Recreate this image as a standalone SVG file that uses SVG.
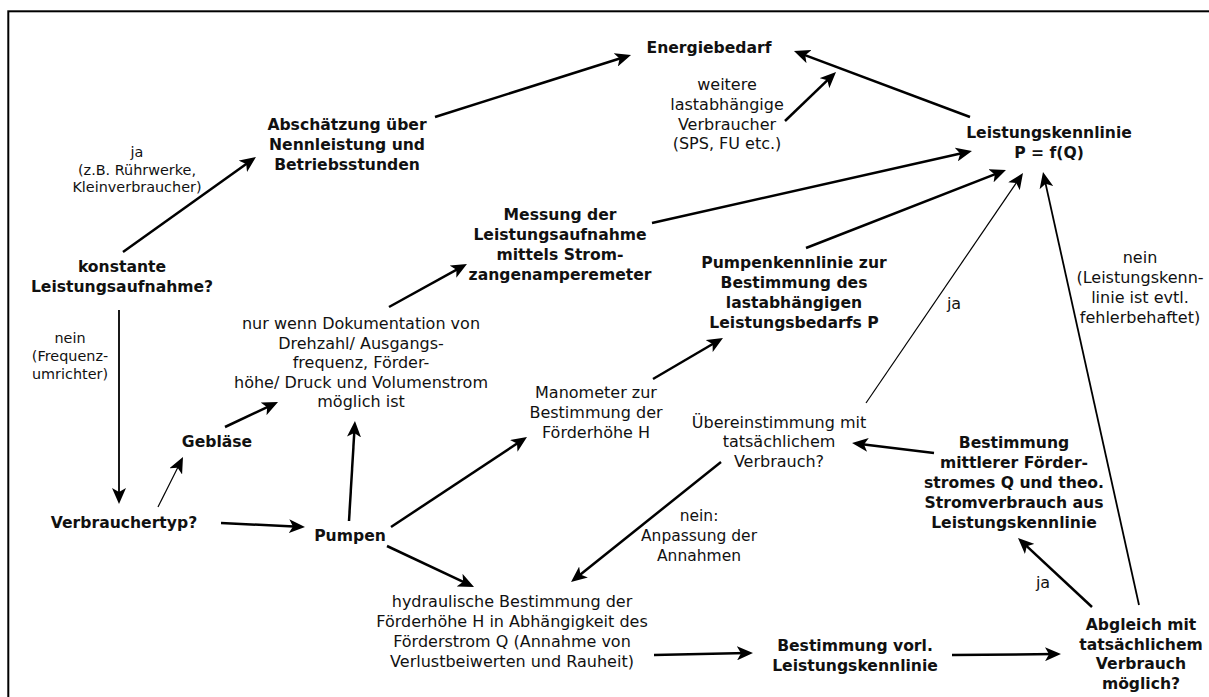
<svg xmlns="http://www.w3.org/2000/svg" width="1209" height="697" viewBox="0 0 1209 697">
<style>
text{font-family:"DejaVu Sans","Liberation Sans",sans-serif;fill:#111;text-anchor:middle}
.b{font-weight:bold;font-size:15.6px}
.r{font-size:16px}
.s{font-size:14.4px}
.l{fill:none;stroke:#000;stroke-width:2.5;marker-end:url(#ah)}
.t{fill:none;stroke:#000;stroke-width:1.2;marker-end:url(#ah)}
.m{fill:none;stroke:#000;stroke-width:1.8;marker-end:url(#ah)}
</style>
<defs>
<marker id="ah" markerUnits="userSpaceOnUse" markerWidth="16" markerHeight="14" refX="10" refY="7" orient="auto">
<path d="M0,0 L16,7 L0,14 L4,7 z" fill="#000"/>
</marker>
</defs>
<rect width="1209" height="697" fill="#fff"/>
<rect x="8.3" y="11.3" width="1300" height="800" fill="none" stroke="#000" stroke-width="2"/>
<g id="connectors">
<line class="l" x1="123" y1="252" x2="251.1" y2="160.5"/>
<line class="l" x1="435" y1="117" x2="625.3" y2="56.8"/>
<line class="l" x1="785" y1="121" x2="831.7" y2="76.2"/>
<line class="l" x1="970" y1="117" x2="799.6" y2="53.1"/>
<line class="l" x1="652" y1="223" x2="966.1" y2="152.3"/>
<line class="l" x1="806" y1="248" x2="1000.4" y2="172.2"/>
<line class="t" x1="866" y1="403" x2="1019.6" y2="178"/>
<line class="m" x1="1139" y1="605" x2="1044.3" y2="177.9"/>
<line class="m" x1="119" y1="310" x2="119" y2="498"/>
<line class="t" x1="158" y1="507" x2="180.3" y2="462.4"/>
<line class="l" x1="225" y1="427" x2="272.6" y2="404.6"/>
<line class="l" x1="221" y1="523" x2="299" y2="526.7"/>
<line class="l" x1="349" y1="521" x2="354.6" y2="427"/>
<line class="l" x1="389" y1="307" x2="461.7" y2="266.9"/>
<line class="l" x1="391" y1="527" x2="522" y2="440.3"/>
<line class="l" x1="653" y1="379" x2="717.8" y2="341"/>
<line class="l" x1="387" y1="546" x2="468.6" y2="584.4"/>
<line class="l" x1="721" y1="462" x2="575.7" y2="578.3"/>
<line class="l" x1="934" y1="453" x2="858" y2="443.7"/>
<line class="l" x1="654" y1="655" x2="747" y2="653.1"/>
<line class="l" x1="952" y1="655" x2="1055" y2="654.1"/>
<line class="l" x1="1092" y1="607" x2="1022.4" y2="542.1"/>
</g>
<g id="edge-labels">
<text class="s" x="137"><tspan x="137" y="157">ja</tspan><tspan x="137" y="174.5">(z.B. Rührwerke,</tspan><tspan x="137" y="192">Kleinverbraucher)</tspan></text>
<text class="s" x="70"><tspan x="70" y="343">nein</tspan><tspan x="70" y="361">(Frequenz-</tspan><tspan x="70" y="379">umrichter)</tspan></text>
<text class="r" x="727"><tspan x="727" y="90">weitere</tspan><tspan x="727" y="110">lastabhängige</tspan><tspan x="727" y="130">Verbraucher</tspan><tspan x="727" y="149">(SPS, FU etc.)</tspan></text>
<text class="r" x="954" y="309">ja</text>
<text class="r" x="1140"><tspan x="1140" y="263">nein</tspan><tspan x="1140" y="283">(Leistungskenn-</tspan><tspan x="1140" y="303">linie ist evtl.</tspan><tspan x="1140" y="323">fehlerbehaftet)</tspan></text>
<text class="r" x="699" style="font-size:15.5px"><tspan x="699" y="521">nein:</tspan><tspan x="699" y="541">Anpassung der</tspan><tspan x="699" y="561">Annahmen</tspan></text>
<text class="r" x="1043" y="588">ja</text>
</g>
<g id="energiebedarf"><text class="b" x="709" y="53">Energiebedarf</text></g>
<g id="abschaetzung"><text class="b" x="347"><tspan x="347" y="130">Abschätzung über</tspan><tspan x="347" y="150">Nennleistung und</tspan><tspan x="347" y="170">Betriebsstunden</tspan></text></g>
<g id="leistungskennlinie"><text class="b" x="1049"><tspan x="1049" y="138">Leistungskennlinie</tspan><tspan x="1049" y="158">P = f(Q)</tspan></text></g>
<g id="konstante"><text class="b" x="122"><tspan x="122" y="272">konstante</tspan><tspan x="122" y="292">Leistungsaufnahme?</tspan></text></g>
<g id="messung"><text class="b" x="560"><tspan x="560" y="220">Messung der</tspan><tspan x="560" y="240">Leistungsaufnahme</tspan><tspan x="560" y="260">mittels Strom-</tspan><tspan x="560" y="280">zangenamperemeter</tspan></text></g>
<g id="pumpenkennlinie"><text class="b" x="794"><tspan x="794" y="268">Pumpenkennlinie zur</tspan><tspan x="794" y="288">Bestimmung des</tspan><tspan x="794" y="308">lastabhängigen</tspan><tspan x="794" y="328">Leistungsbedarfs P</tspan></text></g>
<g id="nurwenn"><text class="r" x="361"><tspan x="361" y="329">nur wenn Dokumentation von</tspan><tspan x="361" y="348.5">Drehzahl/ Ausgangs-</tspan><tspan x="361" y="368">frequenz, Förder-</tspan><tspan x="361" y="387.5">höhe/ Druck und Volumenstrom</tspan><tspan x="361" y="407">möglich ist</tspan></text></g>
<g id="geblaese"><text class="b" x="217" y="447">Gebläse</text></g>
<g id="verbrauchertyp"><text class="b" x="124" y="528">Verbrauchertyp?</text></g>
<g id="pumpen"><text class="b" x="350" y="541">Pumpen</text></g>
<g id="manometer"><text class="r" x="596"><tspan x="596" y="398">Manometer zur</tspan><tspan x="596" y="418">Bestimmung der</tspan><tspan x="596" y="438">Förderhöhe H</tspan></text></g>
<g id="uebereinstimmung"><text class="r" x="779"><tspan x="779" y="427.5">Übereinstimmung mit</tspan><tspan x="779" y="447">tatsächlichem</tspan><tspan x="779" y="466.5">Verbrauch?</tspan></text></g>
<g id="hydraulisch"><text class="r" x="512"><tspan x="512" y="607">hydraulische Bestimmung der</tspan><tspan x="512" y="627">Förderhöhe H in Abhängigkeit des</tspan><tspan x="512" y="647">Förderstrom Q (Annahme von</tspan><tspan x="512" y="667">Verlustbeiwerten und Rauheit)</tspan></text></g>
<g id="vorl"><text class="b" x="855"><tspan x="855" y="651">Bestimmung vorl.</tspan><tspan x="855" y="671">Leistungskennlinie</tspan></text></g>
<g id="mittlerer"><text class="b" x="1014"><tspan x="1014" y="448">Bestimmung</tspan><tspan x="1014" y="468">mittlerer Förder-</tspan><tspan x="1014" y="488">stromes Q und theo.</tspan><tspan x="1014" y="508">Stromverbrauch aus</tspan><tspan x="1014" y="528">Leistungskennlinie</tspan></text></g>
<g id="abgleich"><text class="b" x="1141"><tspan x="1141" y="630">Abgleich mit</tspan><tspan x="1141" y="649.5">tatsächlichem</tspan><tspan x="1141" y="669">Verbrauch</tspan><tspan x="1141" y="688.5">möglich?</tspan></text></g>
</svg>
